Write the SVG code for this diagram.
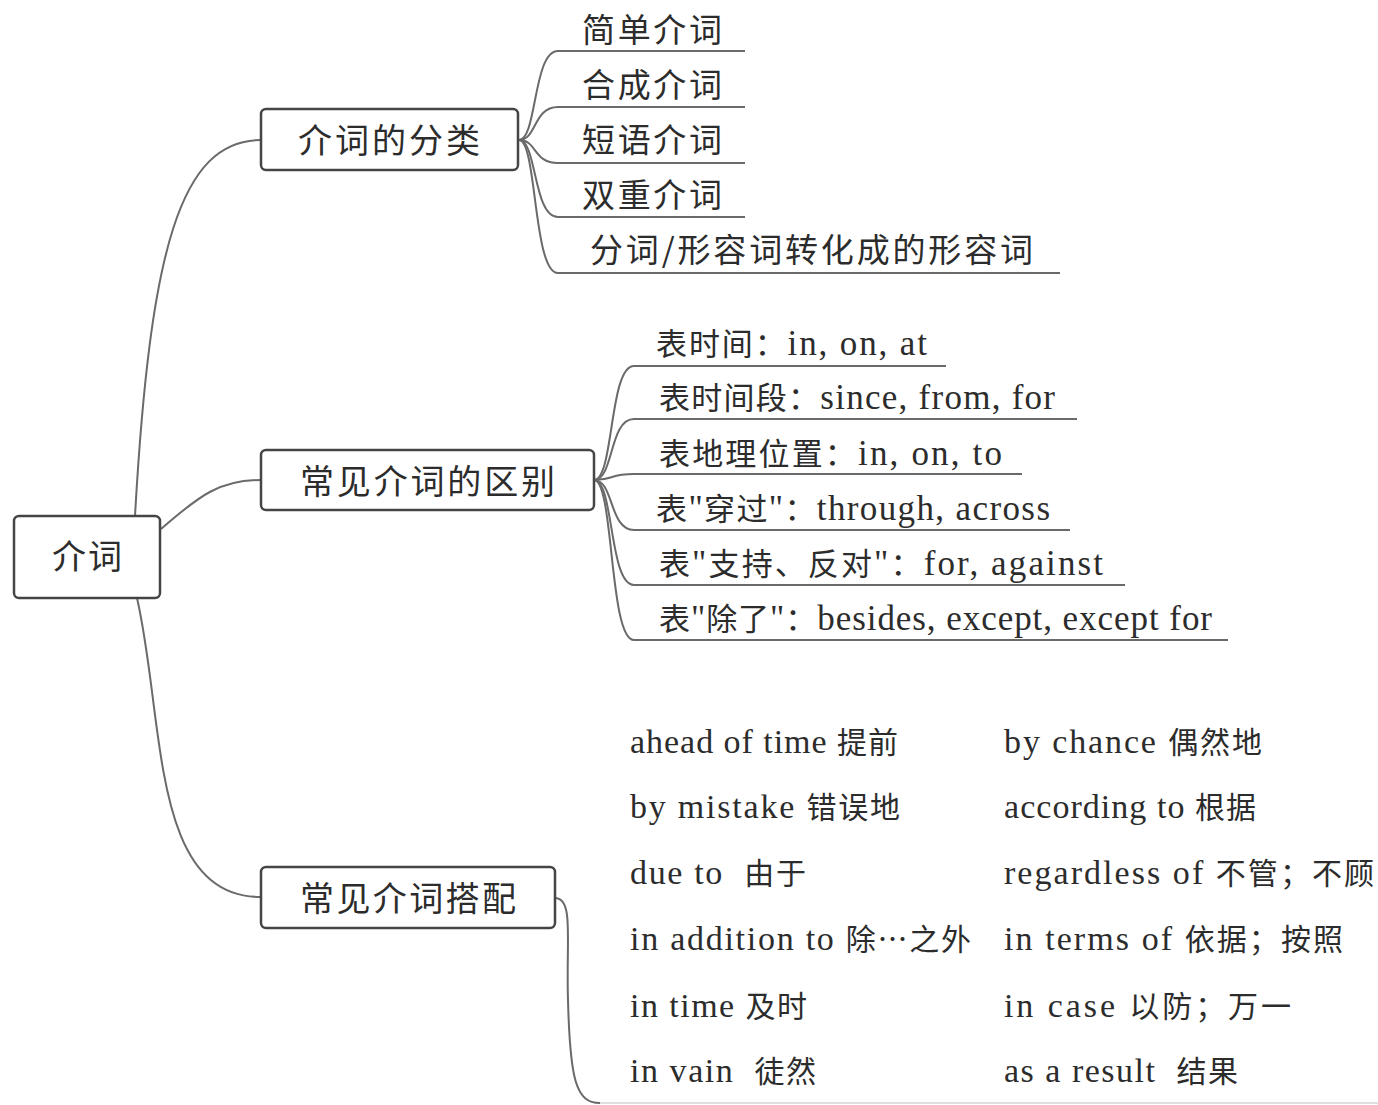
<svg xmlns="http://www.w3.org/2000/svg" width="1378" height="1105" viewBox="0 0 1378 1105">
<style>
.bg{fill:#ffffff}
.box{fill:#ffffff;stroke:#454545;stroke-width:2.5}
.con{fill:none;stroke:#6a6a6a;stroke-width:2}
.faint{fill:none;stroke:#d4d4d4;stroke-width:1.5}
text{font-family:"Liberation Serif","Noto Sans CJK SC",serif;fill:#2c2c2c}
.zh{font-family:"Noto Sans CJK SC","Liberation Serif",sans-serif}
.nt{font-size:34px}
.ct{font-size:33px}
.dt{font-size:35px}
.dt .zh{font-size:31px}
.lt{font-size:34px}
.lt .zh{font-size:30px}
</style>
<rect class="bg" x="0" y="0" width="1378" height="1105"/>
<g id="connectors">
  <path class="con" d="M135,516 C150,250 180,140 261,140"/>
  <path class="con" d="M161,529 C200,495 220,480 261,480"/>
  <path class="con" d="M137,598 C165,720 150,897 261,897"/>
  <path class="con" d="M519,140 C537,140 533,51 558,51 L745,51"/>
  <path class="con" d="M519,140 C537,140 533,107 558,107 L745,107"/>
  <path class="con" d="M519,140 C537,140 533,163 558,163 L745,163"/>
  <path class="con" d="M519,140 C537,140 533,217 558,217 L745,217"/>
  <path class="con" d="M519,140 C537,140 533,273 558,273 L1060,273"/>
  <path class="con" d="M594,480 C614,480 609,366 634,366 L946,366"/>
  <path class="con" d="M594,480 C614,480 609,419 634,419 L1077,419"/>
  <path class="con" d="M594,480 C614,480 609,474 634,474 L1022,474"/>
  <path class="con" d="M594,480 C614,480 609,530 634,530 L1070,530"/>
  <path class="con" d="M594,480 C614,480 609,585 634,585 L1125,585"/>
  <path class="con" d="M594,480 C614,480 609,640 634,640 L1228,640"/>
  <path class="con" d="M555,898 C574,898 566,940 568,1000 C570,1080 576,1103 600,1103"/>
  <path class="faint" d="M600,1103 L1378,1103"/>
</g>
<g id="root">
  <rect class="box" x="14" y="516" width="146" height="82" rx="5"/>
  <text class="nt zh" x="52" y="569" textLength="70">介词</text>
</g>
<g id="n-classify">
  <rect class="box" x="261" y="109" width="257" height="61" rx="5"/>
  <text class="nt zh" x="298" y="153" textLength="182">介词的分类</text>
</g>
<g id="n-diff">
  <rect class="box" x="261" y="450" width="333" height="60" rx="5"/>
  <text class="nt zh" x="300" y="494" textLength="255">常见介词的区别</text>
</g>
<g id="n-colloc">
  <rect class="box" x="261" y="867" width="294" height="61" rx="5"/>
  <text class="nt zh" x="300" y="911" textLength="216">常见介词搭配</text>
</g>
<g id="c1-1"><text class="ct zh" x="582" y="42" textLength="140">简单介词</text></g>
<g id="c1-2"><text class="ct zh" x="582" y="97" textLength="140">合成介词</text></g>
<g id="c1-3"><text class="ct zh" x="582" y="152" textLength="140">短语介词</text></g>
<g id="c1-4"><text class="ct zh" x="582" y="207" textLength="140">双重介词</text></g>
<g id="c1-5"><text class="ct zh" x="590" y="262" textLength="443">分词/形容词转化成的形容词</text></g>
<g id="c2-1"><text class="dt" x="656" y="355" textLength="271"><tspan class="zh">表时间：</tspan>in, on, at</text></g>
<g id="c2-2"><text class="dt" x="659" y="409" textLength="396"><tspan class="zh">表时间段：</tspan>since, from, for</text></g>
<g id="c2-3"><text class="dt" x="659" y="465" textLength="343"><tspan class="zh">表地理位置：</tspan>in, on, to</text></g>
<g id="c2-4"><text class="dt" x="656" y="520" textLength="394"><tspan class="zh">表</tspan>"<tspan class="zh">穿过</tspan>"<tspan class="zh">：</tspan>through, across</text></g>
<g id="c2-5"><text class="dt" x="659" y="575" textLength="444"><tspan class="zh">表</tspan>"<tspan class="zh">支持、反对</tspan>"<tspan class="zh">：</tspan>for, against</text></g>
<g id="c2-6"><text class="dt" x="659" y="630" textLength="553"><tspan class="zh">表</tspan>"<tspan class="zh">除了</tspan>"<tspan class="zh">：</tspan>besides, except, except for</text></g>
<g id="c3-list">
  <text class="lt" x="630" y="753" textLength="268">ahead of time <tspan class="zh">提前</tspan></text>
  <text class="lt" x="630" y="818" textLength="270">by mistake <tspan class="zh">错误地</tspan></text>
  <text class="lt" x="630" y="884" textLength="176" xml:space="preserve">due to  <tspan class="zh">由于</tspan></text>
  <text class="lt" x="630" y="950" textLength="341">in addition to <tspan class="zh">除…之外</tspan></text>
  <text class="lt" x="630" y="1017" textLength="177">in time <tspan class="zh">及时</tspan></text>
  <text class="lt" x="630" y="1082" textLength="186" xml:space="preserve">in vain  <tspan class="zh">徒然</tspan></text>
  <text class="lt" x="1004" y="753" textLength="258">by chance <tspan class="zh">偶然地</tspan></text>
  <text class="lt" x="1004" y="818" textLength="252">according to <tspan class="zh">根据</tspan></text>
  <text class="lt" x="1004" y="884" textLength="370">regardless of <tspan class="zh">不管；不顾</tspan></text>
  <text class="lt" x="1004" y="950" textLength="339">in terms of <tspan class="zh">依据；按照</tspan></text>
  <text class="lt" x="1004" y="1017" textLength="287">in case <tspan class="zh">以防；万一</tspan></text>
  <text class="lt" x="1004" y="1082" textLength="234" xml:space="preserve">as a result  <tspan class="zh">结果</tspan></text>
</g>
</svg>
